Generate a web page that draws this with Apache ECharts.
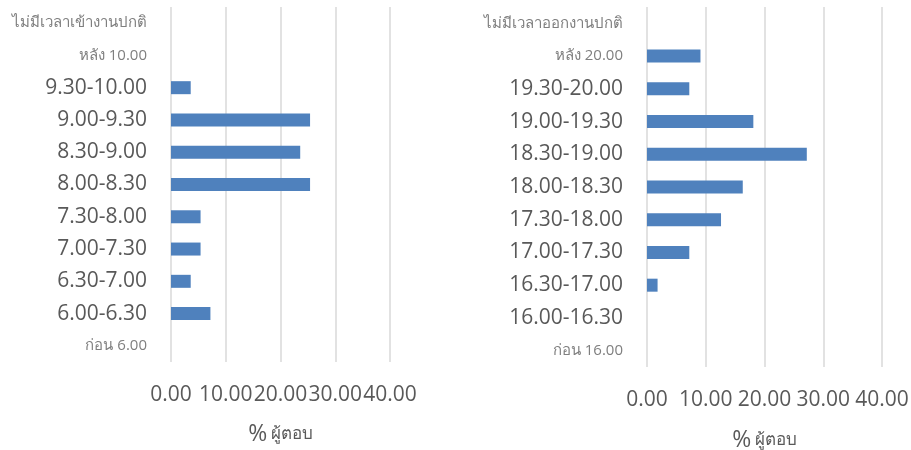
<!DOCTYPE html>
<html><head><meta charset="utf-8">
<script src="https://cdn.jsdelivr.net/npm/echarts@6/dist/echarts.min.js"></script>
<style>html,body{margin:0;padding:0;background:#fff}#c{width:911px;height:450px}</style>
</head><body><div id="c"></div>
<script>
const inCats = ['ก่อน 6.00','6.00-6.30','6.30-7.00','7.00-7.30','7.30-8.00','8.00-8.30','8.30-9.00','9.00-9.30','9.30-10.00','หลัง 10.00','ไม่มีเวลาเข้างานปกติ'];
const inVals = [0, 7.2, 3.6, 5.4, 5.4, 25.4, 23.6, 25.4, 3.6, 0, 0];
const outCats = ['ก่อน 16.00','16.00-16.30','16.30-17.00','17.00-17.30','17.30-18.00','18.00-18.30','18.30-19.00','19.00-19.30','19.30-20.00','หลัง 20.00','ไม่มีเวลาออกงานปกติ'];
const outVals = [0, 0, 1.8, 7.2, 12.6, 16.3, 27.2, 18.1, 7.2, 9.1, 0];
const xTicks = [0, 10, 20, 30, 40];
const axisName = '% ผู้ตอบ';

const FONT = '"Open Sans","Noto Sans",sans-serif';
function catLabel(v){
  return /^[0-9]/.test(v) ? '{big|' + v + '}' : '{small|' + v + '}';
}
const catAxis = (idx, cats) => ({
  type: 'category', gridIndex: idx, data: cats,
  axisLine: {show: false}, axisTick: {show: false},
  axisLabel: {
    margin: 24, formatter: catLabel,
    rich: {
      big: {fontSize: 21, color: '#595959', fontFamily: FONT},
      small: {fontSize: 15, color: '#7f7f7f', fontFamily: FONT}
    }
  }
});
const valAxis = (idx, gap) => ({
  type: 'value', gridIndex: idx, min: xTicks[0], max: xTicks[xTicks.length-1], interval: 10,
  axisLine: {show: false}, axisTick: {show: false},
  splitLine: {lineStyle: {color: '#d9d9d9', width: 1.5}},
  axisLabel: {margin: 23, fontSize: 21, color: '#595959', fontFamily: FONT,
    formatter: v => v.toFixed(2)},
  name: '{p|%} {t|' + axisName.replace('% ','') + '}',
  nameLocation: 'middle', nameGap: gap,
  nameTextStyle: {rich: {
    p: {fontSize: 23, color: '#595959', fontFamily: FONT},
    t: {fontSize: 17, color: '#595959', fontFamily: FONT}
  }}
});
const chart = echarts.init(document.getElementById('c'));
chart.setOption({
  animation: false,
  grid: [
    {left: 171, width: 219, top: 7, height: 355, outerBoundsMode: 'none', containLabel: false},
    {left: 647, width: 235, top: 7, height: 360, outerBoundsMode: 'none', containLabel: false}
  ],
  xAxis: [valAxis(0, 61), valAxis(1, 62)],
  yAxis: [catAxis(0, inCats), catAxis(1, outCats)],
  series: [
    {type: 'bar', xAxisIndex: 0, yAxisIndex: 0, data: inVals, barWidth: 13,
     itemStyle: {color: '#4f81bd'}},
    {type: 'bar', xAxisIndex: 1, yAxisIndex: 1, data: outVals, barWidth: 13,
     itemStyle: {color: '#4f81bd'}}
  ]
});
</script></body></html>
